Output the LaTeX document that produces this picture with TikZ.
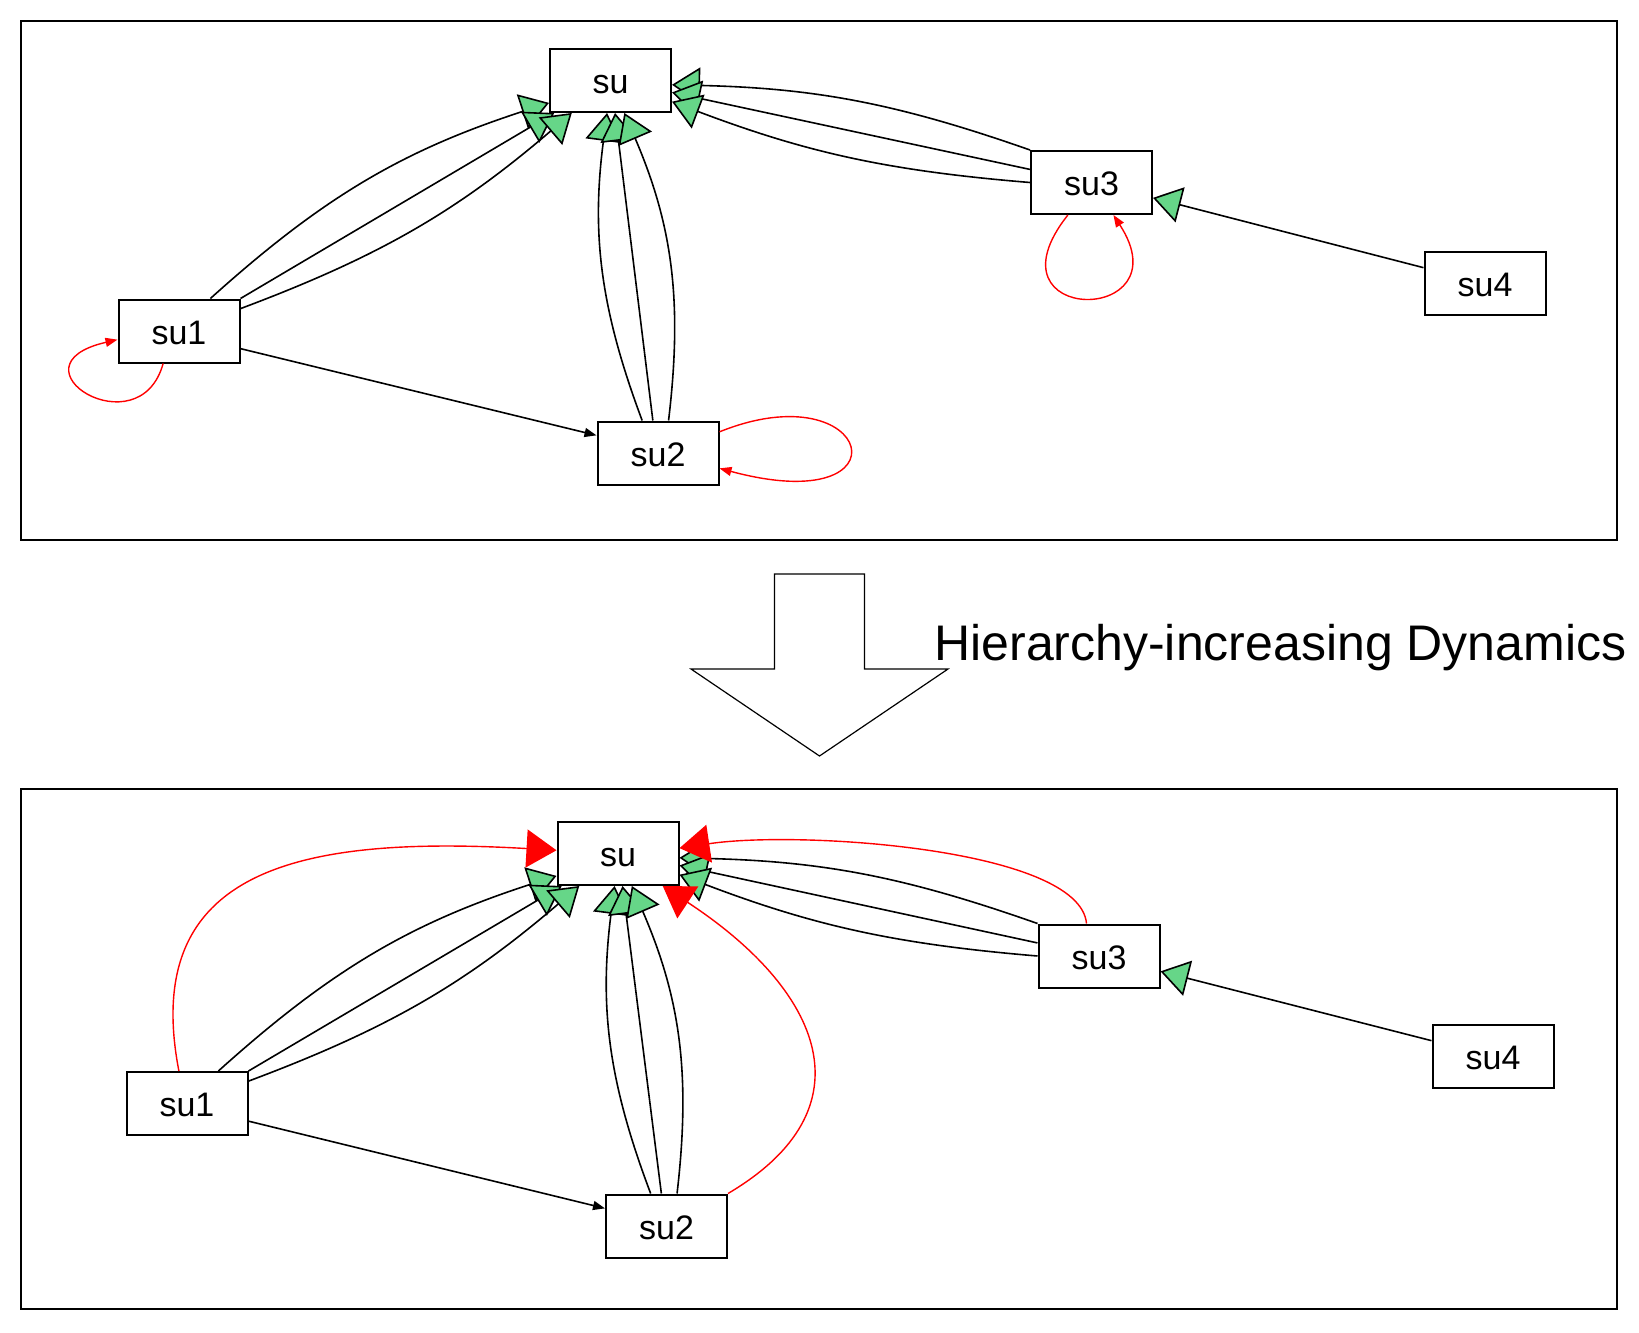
\documentclass[tikz,border=0pt]{standalone}
\usepackage{fontspec}
\setmainfont{Liberation Sans}
\usetikzlibrary{arrows.meta}
\definecolor{headgreen}{RGB}{102,214,136}

\begin{document}
\begin{tikzpicture}[x=0.5pt,y=0.5pt,
   unit/.style={draw,line width=1pt,minimum width=60.5pt,minimum height=31.5pt,
     inner sep=0pt,text height=13pt,text depth=0pt,font=\fontsize{17}{20}\selectfont},
   link/.style={line width=0.8pt,-{Triangle[length=14pt,width=18pt,fill=headgreen]}},
   plain/.style={line width=0.8pt,-{Triangle[length=6pt,width=4.5pt]}},
   selfloop/.style={red,line width=0.7pt,-{Triangle[length=6pt,width=4.5pt]}},
   jump/.style={red,line width=0.7pt,-{Triangle[length=15pt,width=19pt]}}]
  \useasboundingbox (0,0) rectangle (1639,-1333);

  % before
  \draw[line width=1pt] (21,-21) rectangle (1617,-540);
  \node[unit] (su)  at (610.5,-80.5) {su};
  \node[unit] (su1) at (179,-331) {su1};
  \node[unit] (su2) at (658,-453) {su2};
  \node[unit] (su3) at (1091.5,-182.5) {su3};
  \node[unit] (su4) at (1485,-283) {su4};

  \draw[link] (su1.46) to[bend left=12] (su.200);
  \draw[link] (su1.north east) -- (su.210);
  \draw[link] (su1.20) to[bend right=10] (su.220);
  \draw[link] (su2.116) to[bend left=14] (su.264);
  \draw[link] (su2.99) -- (su.278);
  \draw[link] (su2.72) to[bend right=15] (su.293);
  \draw[link] (su3.north west) to[bend right=9] (su.356);
  \draw[link] (su3.168) -- (su.349);
  \draw[link] (su3.180) to[bend left=8] (su.341);
  \draw[link] (su4.166) -- (su3.346);
  \draw[plain] (su1.344) -- (su2.164);
  \draw[selfloop] (su1.244) .. controls +(-24,-87) and +(-113,-26) .. (su1.188);
  \draw[selfloop] (su3.234) .. controls +(-88,-111) and +(72,-111) .. (su3.304);
  \draw[selfloop] (su2.19) .. controls +(154,62) and +(193,-52) .. (su2.346);

  % dynamics
  \draw[line width=0.6pt] (774.5,-574) -- (864.5,-574) -- (864.5,-669) -- (948,-669)
    -- (819.5,-756) -- (691,-669) -- (774.5,-669) -- cycle;
  \node[anchor=base west,inner sep=0pt,font=\fontsize{25}{30}\selectfont] (dyn)
    at (934,-660.5) {Hierarchy-increasing Dynamics};

  % after
  \draw[line width=1pt] (21,-789) rectangle (1617,-1309);
  \node[unit] (su-b)  at (618,-853.5) {su};
  \node[unit] (su1-b) at (187,-1103.5) {su1};
  \node[unit] (su2-b) at (666.5,-1226) {su2};
  \node[unit] (su3-b) at (1099,-956) {su3};
  \node[unit] (su4-b) at (1493,-1056) {su4};

  \draw[link] (su1-b.46) to[bend left=12] (su-b.200);
  \draw[link] (su1-b.north east) -- (su-b.210);
  \draw[link] (su1-b.20) to[bend right=10] (su-b.220);
  \draw[link] (su2-b.116) to[bend left=14] (su-b.264);
  \draw[link] (su2-b.99) -- (su-b.278);
  \draw[link] (su2-b.72) to[bend right=15] (su-b.293);
  \draw[link] (su3-b.north west) to[bend right=9] (su-b.356);
  \draw[link] (su3-b.168) -- (su-b.349);
  \draw[link] (su3-b.180) to[bend left=8] (su-b.341);
  \draw[link] (su4-b.166) -- (su3-b.346);
  \draw[plain] (su1-b.344) -- (su2-b.164);
  \draw[jump] (su1-b.104) .. controls +(-39,202) and +(-258,15) .. (su-b.177);
  \draw[jump] (su2-b.north east) .. controls +(144,85) and +(160,-105) .. (su-b.324);
  \draw[jump] (su3-b.111) .. controls +(-7,75) and +(120,18) .. (su-b.5);
\end{tikzpicture}
\end{document}
